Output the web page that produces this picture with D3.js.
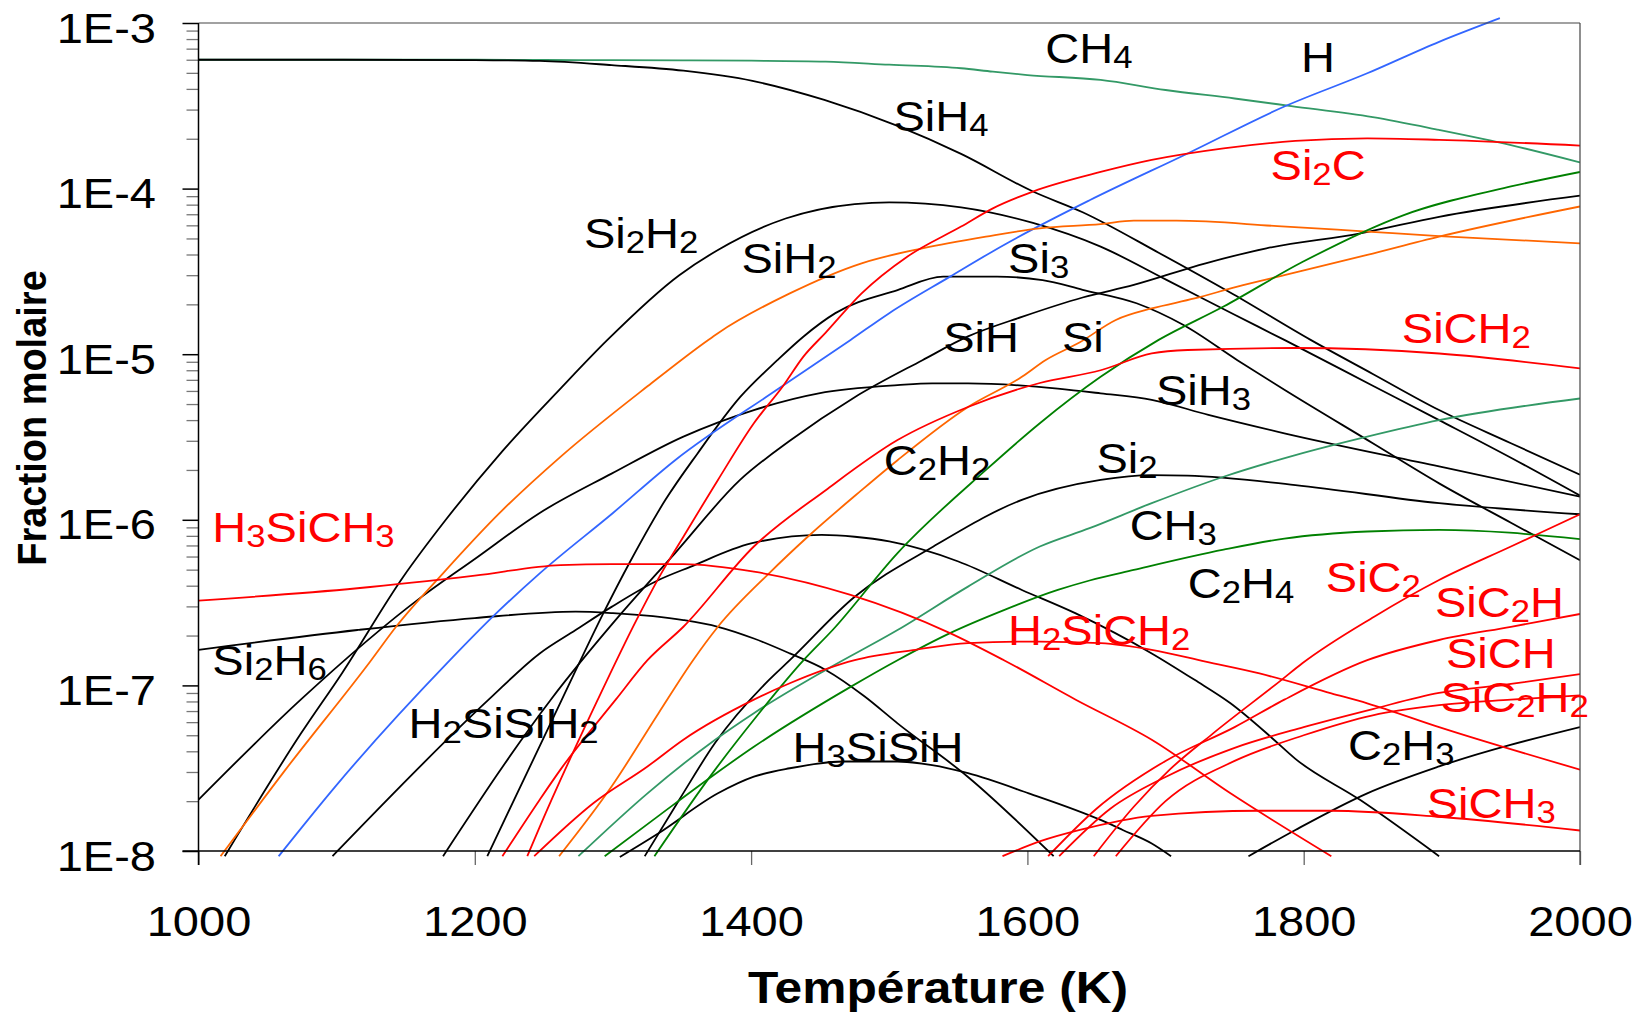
<!DOCTYPE html>
<html>
<head>
<meta charset="utf-8">
<script src="https://cdnjs.cloudflare.com/ajax/libs/d3/7.8.5/d3.min.js"></script>
<style>
  body { margin: 0; background: #fff; }
  text { font-family: "Liberation Sans", Arial, sans-serif; }
</style>
</head>
<body>
<script>
// [temperature K, mole fraction]
var ch4 = [[1000,6.0e-4],[1100,6.0e-4],[1200,6.0e-4],[1250,5.98e-4],[1300,5.97e-4],[1350,5.95e-4],[1400,5.92e-4],[1454,5.85e-4],[1500,5.6e-4],[1552,5.33e-4],[1575,5.08e-4],[1600,4.85e-4],[1653,4.53e-4],[1700,3.94e-4],[1750,3.5e-4],[1791,3.15e-4],[1850,2.7e-4],[1898,2.26e-4],[1950,1.83e-4],[2000,1.44e-4]];
var sih4 = [[1000,6.0e-4],[1100,6.0e-4],[1200,5.97e-4],[1247,5.9e-4],[1299,5.57e-4],[1351,5.15e-4],[1401,4.47e-4],[1453,3.43e-4],[1506,2.39e-4],[1552,1.62e-4],[1604,9.6e-5],[1640,7.2e-5],[1695,4.1e-5],[1749,2.3e-5],[1805,1.22e-5],[1850,7.6e-6],[1898,4.6e-6],[1950,2.9e-6],[2000,1.87e-6]];
var si2h2 = [[1019,9.3e-9],[1074,5.1e-8],[1104,1.19e-7],[1148,4.5e-7],[1179,1.0e-6],[1220,2.6e-6],[1262,6.2e-6],[1296,1.22e-5],[1348,3.0e-5],[1376,4.26e-5],[1425,6.6e-5],[1475,8.07e-5],[1500,8.26e-5],[1552,7.7e-5],[1604,6.2e-5],[1653,4.46e-5],[1700,2.83e-5],[1750,1.73e-5],[1786,1.22e-5],[1850,6.45e-6],[1898,4.0e-6],[1950,2.37e-6],[2000,1.4e-6]];
var si3 = [[1209,9.3e-9],[1263,8.2e-8],[1293,2.72e-7],[1312,5.5e-7],[1338,1.32e-6],[1361,2.5e-6],[1392,5.5e-6],[1419,9.2e-6],[1438,1.28e-5],[1461,1.77e-5],[1506,2.44e-5],[1539,2.94e-5],[1578,2.94e-5],[1611,2.8e-5],[1640,2.45e-5],[1679,2.03e-5],[1713,1.5e-5],[1752,9.2e-6],[1786,6.1e-6],[1850,2.9e-6],[1898,1.66e-6],[1950,9.6e-7],[2000,5.7e-7]];
var sih = [[1177,9.3e-9],[1255,8.2e-8],[1304,2.6e-7],[1345,6.3e-7],[1392,1.74e-6],[1428,3.0e-6],[1475,5.5e-6],[1524,9.2e-6],[1557,1.28e-5],[1596,1.68e-5],[1640,2.2e-5],[1677,2.62e-5],[1729,3.54e-5],[1773,4.36e-5],[1841,5.37e-5],[1898,6.76e-5],[2000,9.06e-5]];
var sih3 = [[1000,2.04e-8],[1074,8.2e-8],[1161,3.4e-7],[1200,5.8e-7],[1247,1.1e-6],[1299,1.9e-6],[1351,3.18e-6],[1402,4.6e-6],[1449,5.8e-6],[1506,6.5e-6],[1531,6.67e-6],[1557,6.67e-6],[1622,6.2e-6],[1653,5.8e-6],[1690,5.3e-6],[1731,4.3e-6],[1786,3.33e-6],[1898,2.1e-6],[2000,1.38e-6]];
var si2 = [[1323,9.3e-9],[1348,2.04e-8],[1374,4.5e-8],[1413,1.08e-7],[1428,1.42e-7],[1475,3.43e-7],[1532,6.9e-7],[1596,1.32e-6],[1653,1.74e-6],[1690,1.86e-6],[1716,1.85e-6],[1794,1.62e-6],[1898,1.26e-6],[2000,1.08e-6]];
var si2h6 = [[1000,1.64e-7],[1115,2.16e-7],[1200,2.55e-7],[1273,2.79e-7],[1300,2.73e-7],[1351,2.48e-7],[1376,2.26e-7],[1402,1.92e-7],[1428,1.56e-7],[1454,1.24e-7],[1482,8.6e-8],[1506,5.9e-8],[1557,2.8e-8],[1619,9.3e-9]];
var h2sisih2 = [[1097,9.3e-9],[1210,8.2e-8],[1247,1.56e-7],[1273,2.16e-7],[1299,2.98e-7],[1333,4.33e-7],[1356,5.2e-7],[1400,7.2e-7],[1451,8.1e-7],[1475,7.9e-7],[1500,7.4e-7],[1550,5.6e-7],[1596,3.77e-7],[1635,2.72e-7],[1690,1.56e-7],[1721,1.08e-7],[1747,7.8e-8],[1776,4.9e-8],[1794,3.6e-8],[1841,2.03e-8],[1898,9.3e-9]];
var h3sisih = [[1305,9.2e-9],[1333,1.28e-8],[1376,2.23e-8],[1402,2.81e-8],[1428,3.16e-8],[1467,3.47e-8],[1506,3.47e-8],[1531,3.3e-8],[1557,2.95e-8],[1601,2.23e-8],[1653,1.54e-8],[1669,1.34e-8],[1690,1.11e-8],[1704,9.3e-9]];
var c2h3 = [[1760,9.3e-9],[1794,1.34e-8],[1846,2.23e-8],[1898,3.24e-8],[2000,5.6e-8]];
var h = [[1058,9.3e-9],[1099,2.45e-8],[1182,1.42e-7],[1213,2.6e-7],[1247,4.75e-7],[1300,1.1e-6],[1345,2.29e-6],[1420,6.2e-6],[1472,1.22e-5],[1500,1.77e-5],[1544,2.94e-5],[1583,4.57e-5],[1645,8.5e-5],[1716,1.63e-4],[1786,3.13e-4],[1846,4.97e-4],[1898,7.7e-4],[1942,1.07e-3]];
var sih2 = [[1016,9.3e-9],[1063,3.1e-8],[1125,1.42e-7],[1143,2.26e-7],[1177,4.75e-7],[1218,1.1e-6],[1262,2.4e-6],[1325,6.4e-6],[1369,1.22e-5],[1376,1.34e-5],[1428,2.33e-5],[1480,3.54e-5],[1524,4.36e-5],[1570,5.13e-5],[1609,5.76e-5],[1653,6.1e-5],[1677,6.4e-5],[1708,6.4e-5],[1781,5.94e-5],[1846,5.5e-5],[1898,5.17e-5],[2000,4.67e-5]];
var si = [[1261,9.3e-9],[1299,2.45e-8],[1333,6.8e-8],[1358,1.42e-7],[1376,2.26e-7],[1413,4.75e-7],[1441,7.9e-7],[1480,1.51e-6],[1506,2.29e-6],[1557,4.8e-6],[1596,7.3e-6],[1613,9.2e-6],[1638,1.18e-5],[1664,1.61e-5],[1690,1.89e-5],[1721,2.17e-5],[1752,2.56e-5],[1786,3.0e-5],[1846,3.98e-5],[1898,5.13e-5],[2000,7.8e-5]];
var ch3 = [[1275,9.3e-9],[1325,2.23e-8],[1374,4.7e-8],[1402,6.8e-8],[1454,1.24e-7],[1506,2.16e-7],[1557,3.95e-7],[1609,6.9e-7],[1645,8.9e-7],[1690,1.26e-6],[1742,1.82e-6],[1794,2.46e-6],[1846,3.18e-6],[1898,4.0e-6],[2000,5.4e-6]];
var c2h2 = [[1330,9.3e-9],[1374,3.1e-8],[1402,6.2e-8],[1438,1.42e-7],[1459,2.16e-7],[1506,6.3e-7],[1570,2.0e-6],[1609,3.83e-6],[1653,7.3e-6],[1695,1.22e-5],[1742,1.94e-5],[1799,3.6e-5],[1872,6.9e-5],[1950,1.03e-4],[2000,1.26e-4]];
var c2h4 = [[1294,9.3e-9],[1333,1.63e-8],[1371,2.8e-8],[1402,4.26e-8],[1472,9.8e-8],[1506,1.42e-7],[1544,2.07e-7],[1583,2.85e-7],[1622,3.77e-7],[1645,4.3e-7],[1677,4.98e-7],[1742,6.6e-7],[1786,7.7e-7],[1846,8.5e-7],[1898,8.7e-7],[2000,7.65e-7]];
var si2c = [[1238,9.3e-9],[1247,1.4e-8],[1289,8.2e-8],[1317,2.48e-7],[1335,4.75e-7],[1351,7.9e-7],[1376,1.74e-6],[1402,3.83e-6],[1423,6.4e-6],[1438,9.7e-6],[1454,1.35e-5],[1480,2.33e-5],[1513,3.88e-5],[1552,5.9e-5],[1575,7.6e-5],[1604,9.6e-5],[1653,1.26e-4],[1690,1.49e-4],[1742,1.75e-4],[1794,1.94e-4],[1846,2.01e-4],[1898,1.97e-4],[2000,1.82e-4]];
var sich2 = [[1220,9.3e-9],[1247,2.04e-8],[1262,3.1e-8],[1302,8.2e-8],[1325,1.42e-7],[1351,2.26e-7],[1402,6.9e-7],[1454,1.51e-6],[1506,3.03e-6],[1557,4.8e-6],[1609,6.7e-6],[1653,8.0e-6],[1690,1.01e-5],[1716,1.06e-5],[1794,1.09e-5],[1898,1.01e-5],[2000,8.2e-6]];
var h3sich3 = [[1000,3.25e-7],[1115,3.86e-7],[1200,4.6e-7],[1262,5.33e-7],[1299,5.4e-7],[1351,5.4e-7],[1402,4.86e-7],[1472,3.52e-7],[1544,2.07e-7],[1583,1.42e-7],[1635,8.2e-8],[1690,4.7e-8],[1747,2.23e-8],[1820,9.3e-9]];
var h2sich2 = [[1243,9.3e-9],[1286,1.95e-8],[1325,3.24e-8],[1351,4.7e-8],[1402,8.2e-8],[1428,1.03e-7],[1475,1.42e-7],[1519,1.64e-7],[1557,1.8e-7],[1609,1.84e-7],[1653,1.8e-7],[1690,1.64e-7],[1729,1.39e-7],[1768,1.18e-7],[1820,8.95e-8],[1846,7.8e-8],[1898,5.6e-8],[2000,3.1e-8]];
var sic2 = [[1648,9.3e-9],[1677,1.85e-8],[1703,3.1e-8],[1734,5.1e-8],[1784,1.08e-7],[1799,1.36e-7],[1851,2.6e-7],[1898,4.33e-7],[1950,6.9e-7],[2000,1.08e-6]];
var sic2h = [[1615,9.3e-9],[1650,1.8e-8],[1700,3.5e-8],[1750,5.6e-8],[1786,8.2e-8],[1846,1.42e-7],[1898,1.88e-7],[1950,2.26e-7],[2000,2.7e-7]];
var sich = [[1623,9.3e-9],[1660,1.8e-8],[1700,2.8e-8],[1750,4.2e-8],[1800,5.6e-8],[1850,7.2e-8],[1898,9.0e-8],[1950,1.02e-7],[2000,1.17e-7]];
var sic2h2 = [[1664,9.3e-9],[1700,2.0e-8],[1750,3.5e-8],[1800,5.0e-8],[1850,6.6e-8],[1898,7.6e-8],[1950,8.2e-8],[2000,8.7e-8]];
var sich3 = [[1582,9.3e-9],[1610,1.15e-8],[1638,1.34e-8],[1690,1.63e-8],[1768,1.75e-8],[1820,1.75e-8],[1898,1.61e-8],[2000,1.33e-8]];

var yDecades = [1e-3, 1e-4, 1e-5, 1e-6, 1e-7, 1e-8];
var xTicks = [1000, 1200, 1400, 1600, 1800, 2000];

var col = { black: "#000000", red: "#ff0000", orange: "#ff6600", blue: "#3366ff", teal: "#339966", green: "#008000" };

var series = [
  { data: ch4, color: col.teal }, { data: sih4, color: col.black }, { data: si2h2, color: col.black },
  { data: si3, color: col.black }, { data: sih, color: col.black }, { data: sih3, color: col.black },
  { data: si2, color: col.black }, { data: si2h6, color: col.black }, { data: h2sisih2, color: col.black },
  { data: h3sisih, color: col.black }, { data: c2h3, color: col.black }, { data: h, color: col.blue },
  { data: sih2, color: col.orange }, { data: si, color: col.orange }, { data: ch3, color: col.teal },
  { data: c2h2, color: col.green }, { data: c2h4, color: col.green }, { data: si2c, color: col.red },
  { data: sich2, color: col.red }, { data: h3sich3, color: col.red }, { data: h2sich2, color: col.red },
  { data: sic2, color: col.red }, { data: sic2h, color: col.red }, { data: sich, color: col.red },
  { data: sic2h2, color: col.red }, { data: sich3, color: col.red }
];

// label anchors (left end of text baseline) in data units
var labels = [
  ["CH4", 1613, 5.73e-4, col.black], ["H", 1798, 5.06e-4, col.black], ["SiH4", 1503, 2.23e-4, col.black],
  ["Si2C", 1776, 1.13e-4, col.red], ["Si2H2", 1279, 4.38e-5, col.black], ["SiH2", 1393, 3.09e-5, col.black],
  ["Si3", 1586, 3.09e-5, col.black], ["SiH", 1539, 1.03e-5, col.black], ["Si", 1625, 1.03e-5, col.black],
  ["SiCH2", 1871, 1.17e-5, col.red], ["SiH3", 1693, 4.93e-6, col.black], ["C2H2", 1496, 1.87e-6, col.black],
  ["Si2", 1650, 1.92e-6, col.black], ["H3SiCH3", 1010, 7.35e-7, col.red], ["CH3", 1674, 7.55e-7, col.black],
  ["C2H4", 1716, 3.37e-7, col.black], ["SiC2", 1816, 3.66e-7, col.red], ["SiC2H", 1895, 2.59e-7, col.red],
  ["H2SiCH2", 1586, 1.75e-7, col.red], ["SiCH", 1903, 1.27e-7, col.red], ["Si2H6", 1010, 1.16e-7, col.black],
  ["SiC2H2", 1899, 6.9e-8, col.red], ["H2SiSiH2", 1152, 4.8e-8, col.black], ["H3SiSiH", 1430, 3.44e-8, col.black],
  ["C2H3", 1832, 3.55e-8, col.black], ["SiCH3", 1889, 1.58e-8, col.red]
];

var width = 1643, height = 1019;
var svg = d3.select("body").append("svg").attr("width", width).attr("height", height);

var x = d3.scaleLinear().domain([1000, 2000]).range([198.5, 1580]);
var y = d3.scaleLog().domain([1e-8, 1e-3]).range([851, 23]);

svg.append("clipPath").attr("id", "plot")
  .append("rect").attr("x", x(1000)).attr("y", 14).attr("width", x(2000) - x(1000)).attr("height", 844);

var line = d3.line()
  .x(function(d) { return x(d[0]); })
  .y(function(d) { return y(d[1]); })
  .curve(d3.curveMonotoneX);

svg.append("g").attr("clip-path", "url(#plot)")
  .selectAll("path").data(series).enter().append("path")
  .attr("d", function(s) { return line(s.data); })
  .attr("fill", "none")
  .attr("stroke", function(s) { return s.color; })
  .attr("stroke-width", 1.8);

// minor ticks on log axis
var minor = [];
yDecades.slice(1).forEach(function(d) {
  for (var k = 2; k <= 9; k++) minor.push(d * k);
});

var gMinor = svg.append("g").attr("transform", "translate(" + x(1000) + ",0)")
  .call(d3.axisLeft(y).tickValues(minor).tickSize(12).tickSizeOuter(0).tickFormat(""));
gMinor.select(".domain").remove();
gMinor.selectAll("line").attr("stroke", "#777").attr("stroke-width", 1.3);

var gy = svg.append("g").attr("transform", "translate(" + x(1000) + ",0)")
  .call(d3.axisLeft(y).tickValues(yDecades).tickSize(16).tickSizeOuter(0)
    .tickFormat(function(d) { return "1E" + Math.round(Math.log10(d)); }));
gy.select(".domain").remove();
gy.attr("font-size", null).attr("font-family", null);
gy.selectAll("line").attr("stroke", "#000").attr("stroke-width", 1.5);
gy.selectAll("text")
  .attr("x", null).attr("dy", null)
  .attr("transform", "translate(-42.5,19) scale(1.12,1)")
  .attr("text-anchor", "end")
  .attr("font-size", 42)
  .attr("fill", "#000");

var gx = svg.append("g").attr("transform", "translate(0," + y(1e-8) + ")")
  .call(d3.axisBottom(x).tickValues(xTicks).tickSize(14).tickSizeOuter(0).tickFormat(d3.format("d")));
gx.select(".domain").remove();
gx.attr("font-size", null).attr("font-family", null);
gx.selectAll("line").attr("stroke", "#666").attr("stroke-width", 1.3);
gx.selectAll("text")
  .attr("y", null).attr("dy", null)
  .attr("transform", "translate(0,85) scale(1.12,1)")
  .attr("text-anchor", "middle")
  .attr("font-size", 42)
  .attr("fill", "#000");

// frame
svg.append("line").attr("x1", x(1000)).attr("x2", x(2000)).attr("y1", y(1e-3)).attr("y2", y(1e-3))
  .attr("stroke", "#444").attr("stroke-width", 1.2);
svg.append("line").attr("x1", x(2000)).attr("x2", x(2000)).attr("y1", y(1e-3)).attr("y2", y(1e-8) + 14)
  .attr("stroke", "#444").attr("stroke-width", 1.2);
svg.append("line").attr("x1", x(1000)).attr("x2", x(1000)).attr("y1", y(1e-3)).attr("y2", y(1e-8) + 14)
  .attr("stroke", "#000").attr("stroke-width", 1.5);
svg.append("line").attr("x1", x(1000) - 16).attr("x2", x(2000)).attr("y1", y(1e-8)).attr("y2", y(1e-8))
  .attr("stroke", "#000").attr("stroke-width", 1.5);

// species labels, digits as subscripts
labels.forEach(function(l) {
  var t = svg.append("text")
    .attr("transform", "translate(" + x(l[1]) + "," + y(l[2]) + ") scale(1.12,1)")
    .attr("font-size", 42)
    .attr("fill", l[3]);
  var shift = 0;
  l[0].match(/\d+|\D+/g).forEach(function(part) {
    var sub = /\d/.test(part);
    var target = sub ? 5 : 0;
    t.append("tspan")
      .attr("dy", target - shift)
      .attr("font-size", sub ? 31 : 42)
      .text(part);
    shift = target;
  });
});

svg.append("text")
  .attr("transform", "translate(938,1003) scale(1.13,1)")
  .attr("text-anchor", "middle")
  .attr("font-size", 44)
  .attr("font-weight", "bold")
  .text("Température (K)");

svg.append("text")
  .attr("transform", "translate(46,418) scale(1.08,1) rotate(-90)")
  .attr("text-anchor", "middle")
  .attr("font-size", 38)
  .attr("font-weight", "bold")
  .text("Fraction molaire");
</script>
</body>
</html>
